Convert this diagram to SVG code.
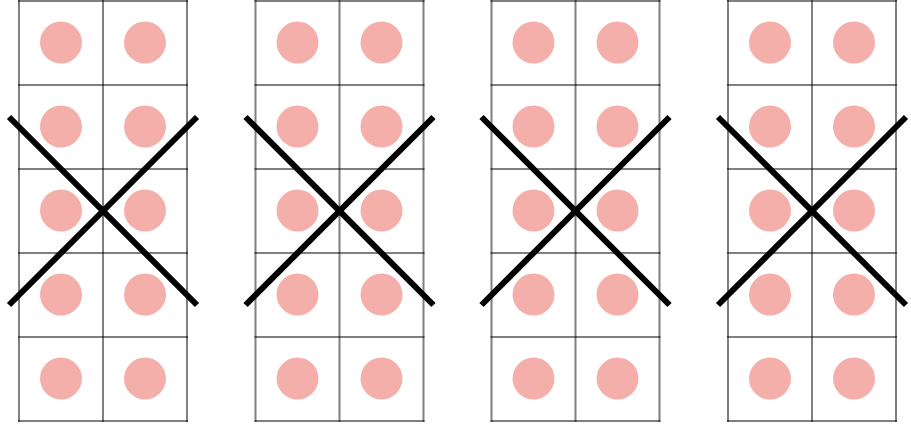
<svg xmlns="http://www.w3.org/2000/svg" width="911" height="430" viewBox="0 0 911 430">
<style>
.gl{stroke:#000;stroke-opacity:0.5;stroke-width:2;fill:none}
.dot{fill:#f4afab}
.x{stroke:#000;stroke-width:6;stroke-linecap:butt}
</style>
<defs>
<g id="grid">
<circle class="dot" cx="42" cy="41.5" r="21"/><circle class="dot" cx="126" cy="41.5" r="21"/>
<circle class="dot" cx="42" cy="125.5" r="21"/><circle class="dot" cx="126" cy="125.5" r="21"/>
<circle class="dot" cx="42" cy="209.5" r="21"/><circle class="dot" cx="126" cy="209.5" r="21"/>
<circle class="dot" cx="42" cy="293.5" r="21"/><circle class="dot" cx="126" cy="293.5" r="21"/>
<circle class="dot" cx="42" cy="377.5" r="21"/><circle class="dot" cx="126" cy="377.5" r="21"/>
<line class="gl" x1="0" y1="-1" x2="0" y2="421"/>
<line class="gl" x1="84" y1="-1" x2="84" y2="421"/>
<line class="gl" x1="168" y1="-1" x2="168" y2="421"/>
<line class="gl" x1="-1" y1="0" x2="169" y2="0"/>
<line class="gl" x1="-1" y1="84" x2="169" y2="84"/>
<line class="gl" x1="-1" y1="168" x2="169" y2="168"/>
<line class="gl" x1="-1" y1="252" x2="169" y2="252"/>
<line class="gl" x1="-1" y1="336" x2="169" y2="336"/>
<line class="gl" x1="-1" y1="420" x2="169" y2="420"/>
</g>
<g id="cross">
<line class="x" x1="-10" y1="116" x2="178" y2="304"/>
<line class="x" x1="178" y1="116" x2="-10" y2="304"/>
</g>
</defs>
<g id="node1" transform="translate(19,1)"><use href="#grid"/><use href="#cross"/></g>
<g id="node2" transform="translate(255.5,1)"><use href="#grid"/><use href="#cross"/></g>
<g id="node3" transform="translate(491.5,1)"><use href="#grid"/><use href="#cross"/></g>
<g id="node4" transform="translate(728,1)"><use href="#grid"/><use href="#cross"/></g>
<g id="connectors"></g>
</svg>
